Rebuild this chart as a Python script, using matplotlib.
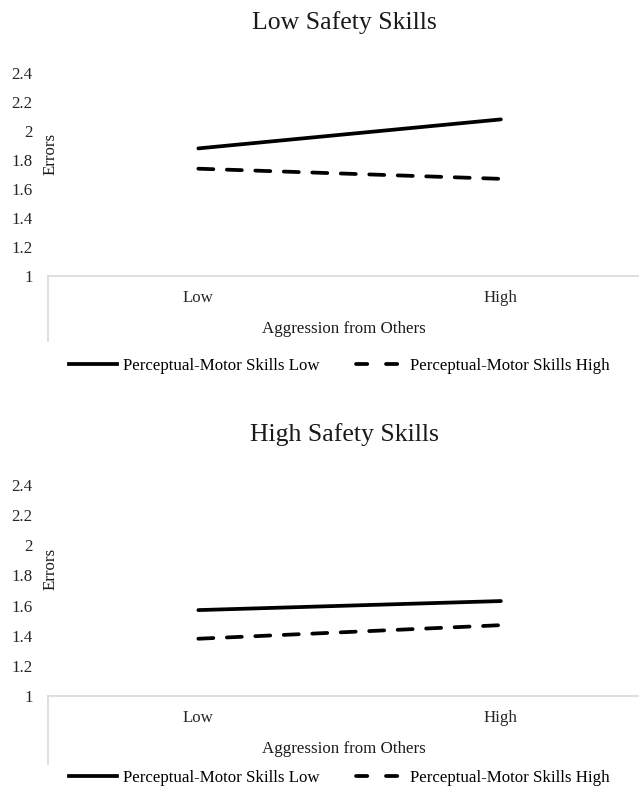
import numpy as np
import matplotlib
matplotlib.use("Agg")
import matplotlib.pyplot as plt
from matplotlib.lines import Line2D

plt.rcParams['font.family'] = ['Liberation Serif', 'DejaVu Serif']

# aggression levels on the x axis
categories = ["Low", "High"]
yticks = [1, 1.2, 1.4, 1.6, 1.8, 2, 2.2, 2.4]
ytick_labels = ["1", "1.2", "1.4", "1.6", "1.8", "2", "2.2", "2.4"]

# errors by perceptual-motor skills, low safety skills panel
low_safety_pm_low = [1.88, 2.08]
low_safety_pm_high = [1.74, 1.67]

# errors by perceptual-motor skills, high safety skills panel
high_safety_pm_low = [1.57, 1.63]
high_safety_pm_high = [1.38, 1.47]

series_names = ["Perceptual-Motor Skills Low", "Perceptual-Motor Skills High"]

W, H = 639, 791
fig = plt.figure(figsize=(W / 100, H / 100), dpi=100)
LW = 2.7
FS = 12.2


def px_axes(left, top, right, bottom):
	# axes box given in pixel coords (origin top-left)
	return fig.add_axes([left / W, 1 - bottom / H, (right - left) / W, (bottom - top) / H])


def draw_panel(ax, title, pm_low, pm_high, legend_y):
	x = np.arange(len(categories))
	ax.plot(x, pm_low, color='black', lw=LW, solid_capstyle='round')
	ax.plot(x, pm_high, color='black', lw=LW, dashes=(4.0, 3.6), dash_capstyle='round')

	ax.set_xlim(-0.497, 1.46)
	ax.set_ylim(1, 2.4)
	ax.set_yticks(yticks)
	ax.set_yticklabels(ytick_labels)
	ax.set_xticks(x)
	ax.set_xticklabels(categories)
	ax.tick_params(axis='y', length=0, pad=11, labelsize=FS, colors='#262626')
	ax.tick_params(axis='x', length=0, pad=10, labelsize=FS, colors='#262626')

	for s in ['top', 'right', 'left']:
		ax.spines[s].set_visible(False)
	ax.spines['bottom'].set_color('#d9d9d9')
	ax.spines['bottom'].set_linewidth(1.2)

	# category axis edge line running down below the plot
	ax.plot([-0.497, -0.497], [1, 0.55], color='#d9d9d9', lw=1.2, clip_on=False)

	ax.set_title(title, fontsize=18.5, pad=32, color='#1a1a1a')
	ax.set_xlabel("Aggression from Others", fontsize=FS, labelpad=11, color='#1a1a1a')
	ax.text(0.004, 0.6, "Errors", rotation=90, transform=ax.transAxes,
			fontsize=FS, ha='center', va='center', color='#1a1a1a')

	# legend samples: dashed sample sized to show two dashes
	handles = [
		Line2D([], [], color='black', lw=LW),
		Line2D([], [], color='black', lw=LW, dashes=(3.0, 5.0), dash_capstyle='round'),
	]
	ax.legend(handles, series_names, loc='center', bbox_to_anchor=(0.492, legend_y),
			  ncol=2, frameon=False, fontsize=FS, handlelength=2.85,
			  handletextpad=0.35, columnspacing=2.1)


ax1 = px_axes(48, 73, 640, 276)
draw_panel(ax1, "Low Safety Skills", low_safety_pm_low, low_safety_pm_high, -0.445)

ax2 = px_axes(48, 485, 640, 696)
draw_panel(ax2, "High Safety Skills", high_safety_pm_low, high_safety_pm_high, -0.39)

fig.savefig("out.png", dpi=100)
